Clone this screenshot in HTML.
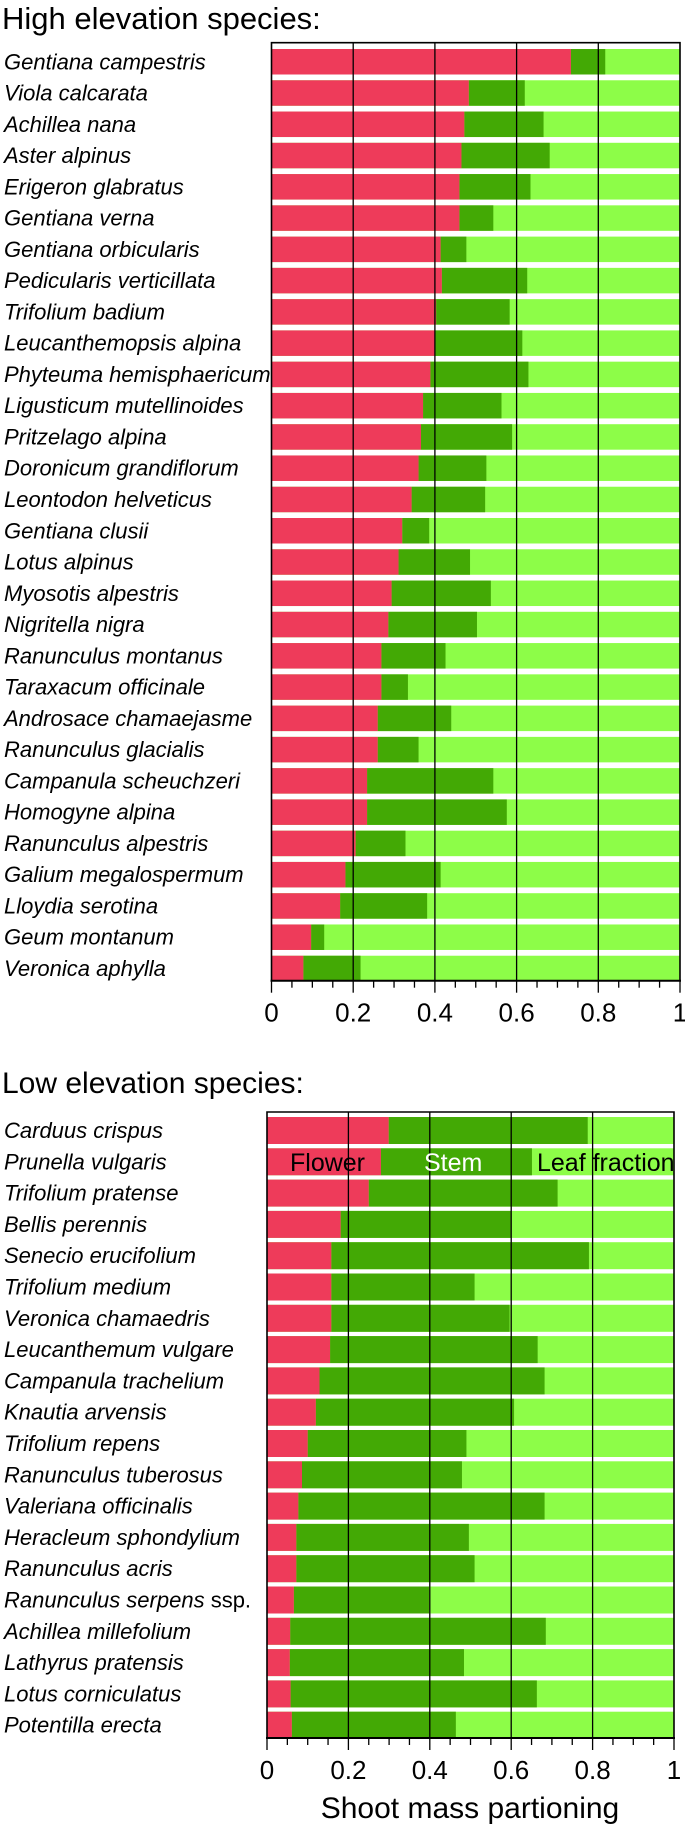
<!DOCTYPE html>
<html><head><meta charset="utf-8">
<style>
html,body{margin:0;padding:0;background:#fff;}
svg{display:block;font-family:"Liberation Sans",Arial,sans-serif;}
</style></head>
<body>
<svg id="chart" width="685" height="1827" viewBox="0 0 685 1827" xmlns="http://www.w3.org/2000/svg">
<text x="2" y="29" font-size="31" fill="#000">High elevation species:</text>
<text x="2" y="1093" font-size="30" fill="#000">Low elevation species:</text>
<text x="470" y="1818" font-size="30" text-anchor="middle" fill="#000">Shoot mass partioning</text>
</svg>
<script>
const highSpecies = ["Gentiana campestris","Viola calcarata","Achillea nana","Aster alpinus","Erigeron glabratus","Gentiana verna","Gentiana orbicularis","Pedicularis verticillata","Trifolium badium","Leucanthemopsis alpina","Phyteuma hemisphaericum","Ligusticum mutellinoides","Pritzelago alpina","Doronicum grandiflorum","Leontodon helveticus","Gentiana clusii","Lotus alpinus","Myosotis alpestris","Nigritella nigra","Ranunculus montanus","Taraxacum officinale","Androsace chamaejasme","Ranunculus glacialis","Campanula scheuchzeri","Homogyne alpina","Ranunculus alpestris","Galium megalospermum","Lloydia serotina","Geum montanum","Veronica aphylla"];
const highFlower = [0.733,0.483,0.472,0.465,0.46,0.46,0.414,0.417,0.403,0.40,0.389,0.371,0.366,0.36,0.343,0.32,0.311,0.294,0.286,0.269,0.269,0.26,0.26,0.234,0.234,0.206,0.181,0.168,0.097,0.078];
const highStem = [0.084,0.137,0.194,0.216,0.174,0.083,0.063,0.209,0.18,0.214,0.24,0.192,0.223,0.166,0.18,0.066,0.175,0.243,0.217,0.157,0.065,0.18,0.10,0.309,0.342,0.122,0.233,0.213,0.032,0.14];
const lowSpecies = ["Carduus crispus","Prunella vulgaris","Trifolium pratense","Bellis perennis","Senecio erucifolium","Trifolium medium","Veronica chamaedris","Leucanthemum vulgare","Campanula trachelium","Knautia arvensis","Trifolium repens","Ranunculus tuberosus","Valeriana officinalis","Heracleum sphondylium","Ranunculus acris","Ranunculus serpens","Achillea millefolium","Lathyrus pratensis","Lotus corniculatus","Potentilla erecta"];
const lowSuffix = ["","","","","","","","","","","","","","","",""," ssp.","","",""].map((s,i)=>i===15?" ssp.":"");
const lowFlower = [0.299,0.28,0.25,0.181,0.158,0.158,0.158,0.155,0.129,0.12,0.10,0.086,0.077,0.072,0.072,0.066,0.057,0.056,0.058,0.061];
const lowStem = [0.489,0.371,0.464,0.419,0.633,0.352,0.438,0.51,0.553,0.487,0.39,0.393,0.605,0.424,0.438,0.332,0.628,0.428,0.605,0.403];
const tickLabels = ["0","0.2","0.4","0.6","0.8","1"];
const tickValues = [0,0.2,0.4,0.6,0.8,1];

const NS="http://www.w3.org/2000/svg";
const svg=document.getElementById('chart');
function mk(tag,attrs,parent){const e=document.createElementNS(NS,tag);for(const k in attrs)e.setAttribute(k,attrs[k]);(parent||svg).appendChild(e);return e;}

function drawPanel(cfg){
  const g=mk('g',{});
  
  
  const xs=v=>cfg.x0+v*(cfg.x1-cfg.x0);
  const n=cfg.species.length;
  const pitch=(cfg.yBot-cfg.yTop)/n;
  const ys=i=>cfg.yTop+i*pitch;
  for(let i=0;i<n;i++){
    const f=cfg.flower[i], s=cfg.stem[i];
    const top=ys(i)+cfg.barOff, h=cfg.barH;
    const leaf=mk('rect',{x:xs(0),y:top,width:xs(1)-xs(0),height:h,fill:'#8dfd48'},g);
    
    
    const st=mk('rect',{x:xs(f),y:top,width:xs(f+s)-xs(f),height:h,fill:'#43a905'},g);
    
    
    const fl=mk('rect',{x:xs(0),y:top,width:xs(f)-xs(0),height:h,fill:'#ee3b5a'},g);
    
    
    const t=mk('text',{x:4,y:top+h/2+7.5,'font-size':22,'font-style':'italic',fill:'#000'},g);
    t.textContent=cfg.species[i];
    
    
    if(cfg.suffix && cfg.suffix[i]){
      const sp=mk('tspan',{'font-style':'normal'},t);
      sp.textContent=cfg.suffix[i];
    }
  }
  [0.2,0.4,0.6,0.8].forEach(v=>{
    const l=mk('line',{x1:xs(v),x2:xs(v),y1:cfg.yTop,y2:cfg.yBot,stroke:'#000','stroke-width':1.3},g);
    
    
  });
  const fr=mk('path',{d:`M${xs(0)},${cfg.yBot}V${cfg.yTop}H${xs(1)}V${cfg.yBot}`,fill:'none',stroke:'#000','stroke-width':1.6},g);
  
  
  const ax=mk('line',{x1:xs(0)-1,x2:xs(1)+1,y1:cfg.yBot,y2:cfg.yBot,stroke:'#000','stroke-width':2},g);
  
  
  for(let k=0;k<=20;k++){
    const v=k/20, major=(k%4===0);
    const tk=mk('line',{x1:xs(v),x2:xs(v),y1:cfg.yBot,y2:cfg.yBot+(major?12:7),stroke:'#000','stroke-width':1.3},g);
    
    
  }
  tickValues.forEach((v,i)=>{
    const t=mk('text',{x:xs(v),y:cfg.yBot+41,'font-size':26,'text-anchor':'middle',fill:'#000'},g);
    t.textContent=tickLabels[i];
    
    
  });
  return {xs,ys,pitch};
}

drawPanel({name:'high-elevation-panel',species:highSpecies,flower:highFlower,stem:highStem,x0:271.5,x1:680,yTop:42.7,yBot:980.7,barOff:6.3,barH:25.5});
const low=drawPanel({name:'low-elevation-panel',species:lowSpecies,suffix:lowSuffix,flower:lowFlower,stem:lowStem,x0:267,x1:674,yTop:1112,yBot:1738,barOff:5,barH:27});

const ly=low.ys(1)+5+13.5+9;
const l1=mk('text',{x:290,y:ly,'font-size':25,fill:'#000'});
l1.textContent='Flower';


const l2=mk('text',{x:424,y:ly,'font-size':25,fill:'#fff'});
l2.textContent='Stem';


const l3=mk('text',{x:537,y:ly,'font-size':25,fill:'#000'});
l3.textContent='Leaf fraction';


</script>
</body></html>
